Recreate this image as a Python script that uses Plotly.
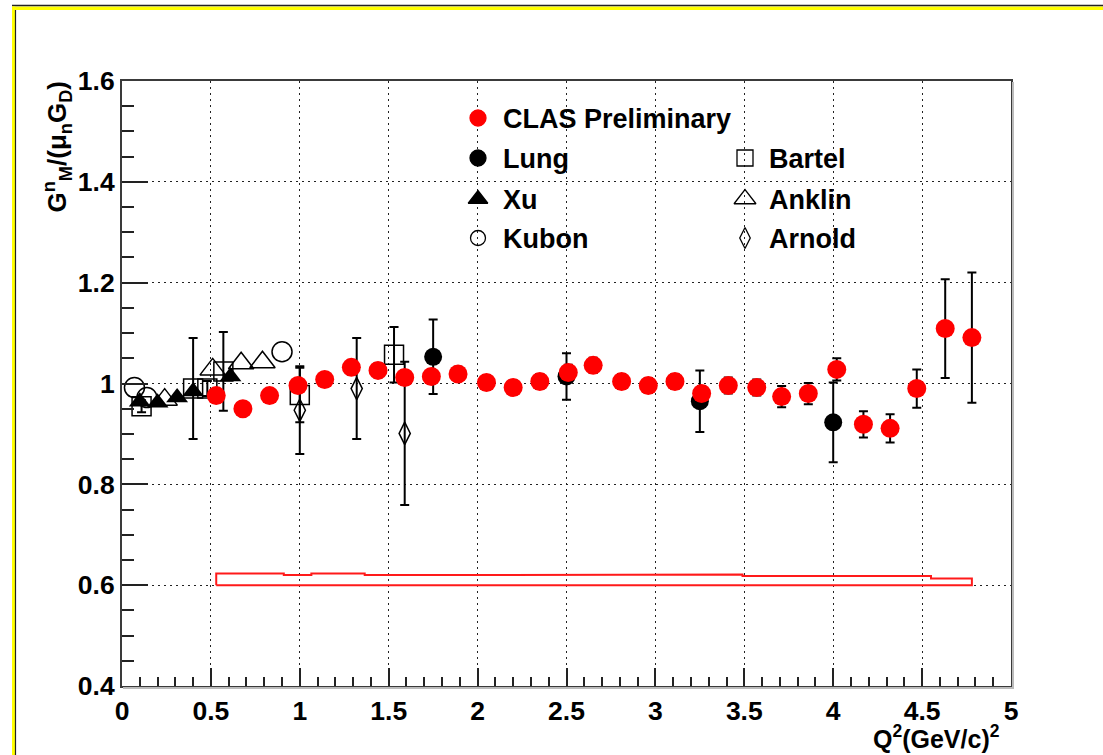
import numpy as np
import plotly.graph_objects as go

# ---------------- data ----------------
# CLAS preliminary: Q^2, G_M^n/(mu_n G_D), statistical error, systematic error
clas_q2 = [0.53, 0.68, 0.83, 0.99, 1.14, 1.29, 1.44, 1.59, 1.74, 1.89,
           2.05, 2.20, 2.35, 2.51, 2.65, 2.81, 2.96, 3.11, 3.26, 3.41,
           3.57, 3.71, 3.86, 4.02, 4.17, 4.32, 4.47, 4.63, 4.78]
clas_gm = [0.976, 0.950, 0.976, 0.996, 1.008, 1.032, 1.026, 1.012, 1.014, 1.019,
           1.002, 0.992, 1.004, 1.022, 1.036, 1.004, 0.996, 1.004, 0.980, 0.996,
           0.992, 0.974, 0.980, 1.028, 0.919, 0.911, 0.990, 1.109, 1.091]
clas_err = [0.013, 0.013, 0.013, 0.013, 0.013, 0.014, 0.014, 0.014, 0.014, 0.014,
            0.014, 0.014, 0.015, 0.015, 0.015, 0.015, 0.015, 0.015, 0.015, 0.016,
            0.016, 0.021, 0.021, 0.022, 0.026, 0.028, 0.038, 0.098, 0.129]
clas_sys = [0.023, 0.023, 0.023, 0.020, 0.023, 0.023, 0.020, 0.020, 0.020, 0.020,
            0.020, 0.020, 0.020, 0.021, 0.021, 0.020, 0.020, 0.020, 0.021, 0.021,
            0.018, 0.018, 0.018, 0.018, 0.018, 0.018, 0.018, 0.013, 0.013]
sys_base = 0.6

lung_q2 = [1.75, 2.50, 3.25, 4.00]
lung_gm = [1.053, 1.014, 0.965, 0.923]
lung_err = [0.074, 0.046, 0.061, 0.079]

bartel_q2 = [0.11, 0.40, 0.48, 0.57, 1.00, 1.53]
bartel_gm = [0.955, 0.990, 0.990, 1.024, 0.977, 1.057]
bartel_err = [0.012, 0.100, 0.015, 0.078, 0.054, 0.055]

xu_q2 = [0.10, 0.20, 0.31, 0.40, 0.61]
xu_gm = [0.964, 0.962, 0.972, 0.984, 1.014]

anklin_q2 = [0.24, 0.51, 0.67, 0.79]
anklin_gm = [0.968, 1.028, 1.040, 1.042]

kubon_q2 = [0.07, 0.14, 0.90]
kubon_gm = [0.992, 0.972, 1.063]

arnold_q2 = [1.00, 1.32, 1.59]
arnold_gm = [0.947, 0.990, 0.901]
arnold_err = [0.087, 0.100, 0.142]

x_tick_vals = [0, 0.5, 1, 1.5, 2, 2.5, 3, 3.5, 4, 4.5, 5]
x_tick_text = ["0", "0.5", "1", "1.5", "2", "2.5", "3", "3.5", "4", "4.5", "5"]
y_tick_vals = [0.4, 0.6, 0.8, 1.0, 1.2, 1.4, 1.6]
y_tick_text = ["0.4", "0.6", "0.8", "1", "1.2", "1.4", "1.6"]

# ---------------- geometry ----------------
W, H = 1103, 755
PL, PR, PT, PB = 122, 1011, 81, 686   # plot frame in pixels
FONT = "Liberation Sans, Arial, Helvetica, sans-serif"


def fx(px):
    return (px - PL) / (PR - PL)


def fy(py):
    return (PB - py) / (PB - PT)


def ebar(arr):
    return dict(type="data", array=arr, color="black", thickness=2, width=4.5)


fig = go.Figure()

# systematic-error band drawn as a closed step outline above the base line
q = np.array(clas_q2)
edges = np.concatenate([[q[0]], 0.5 * (q[:-1] + q[1:]), [q[-1]]])
bx, by = [edges[0]], [sys_base]
for i, s in enumerate(clas_sys):
    bx += [edges[i], edges[i + 1]]
    by += [sys_base + s, sys_base + s]
bx += [edges[-1], edges[0]]
by += [sys_base, sys_base]
fig.add_trace(go.Scatter(x=bx, y=by, mode="lines",
                         line=dict(color="#ff1a1a", width=2), showlegend=False,
                         hoverinfo="skip"))

# other measurements
fig.add_trace(go.Scatter(x=arnold_q2, y=arnold_gm, mode="markers", name="Arnold",
                         error_y=ebar(arnold_err),
                         marker=dict(symbol="diamond-tall-open", size=16, color="black",
                                     line=dict(width=1.5, color="black"))))
fig.add_trace(go.Scatter(x=bartel_q2, y=bartel_gm, mode="markers", name="Bartel",
                         error_y=ebar(bartel_err),
                         marker=dict(symbol="square-open", size=19, color="black",
                                     line=dict(width=1.5, color="black"))))
fig.add_trace(go.Scatter(x=anklin_q2, y=anklin_gm, mode="markers", name="Anklin",
                         marker=dict(symbol="triangle-up-open", size=22, color="black",
                                     line=dict(width=1.5, color="black"))))
fig.add_trace(go.Scatter(x=kubon_q2, y=kubon_gm, mode="markers", name="Kubon",
                         marker=dict(symbol="circle-open", size=20, color="black",
                                     line=dict(width=1.5, color="black"))))
fig.add_trace(go.Scatter(x=xu_q2, y=xu_gm, mode="markers", name="Xu",
                         marker=dict(symbol="triangle-up", size=19, color="black")))
fig.add_trace(go.Scatter(x=lung_q2, y=lung_gm, mode="markers", name="Lung",
                         error_y=ebar(lung_err),
                         marker=dict(symbol="circle", size=18, color="black")))
fig.add_trace(go.Scatter(x=clas_q2, y=clas_gm, mode="markers", name="CLAS Preliminary",
                         error_y=ebar(clas_err),
                         marker=dict(symbol="circle", size=19, color="#ff0000")))

# ---------------- legend (two columns inside the frame) ----------------
legend_keys = [
    ("CLAS Preliminary", "circle", "#ff0000", 16, 0, 0),
    ("Lung", "circle", "black", 16, 0, 1),
    ("Xu", "triangle-up", "black", 17, 0, 2),
    ("Kubon", "circle-open", "black", 15, 0, 3),
    ("Bartel", "square-open", "black", 16, 1, 1),
    ("Anklin", "triangle-up-open", "black", 19, 1, 2),
    ("Arnold", "diamond-tall-open", "black", 15, 1, 3),
]
col_marker_px = [478, 745]
col_text_px = [501, 767]
row_px = [118, 158, 199, 238]

annotations = []
for label, sym, col, sz, c, r in legend_keys:
    fig.add_trace(go.Scatter(x=[fx(col_marker_px[c])], y=[fy(row_px[r])],
                             xaxis="x2", yaxis="y2", mode="markers",
                             marker=dict(symbol=sym, size=sz, color=col,
                                         line=dict(width=1.3, color=col)),
                             showlegend=False, hoverinfo="skip"))
    annotations.append(dict(x=fx(col_text_px[c]), y=fy(row_px[r] + 1), xref="paper", yref="paper",
                            text=label, showarrow=False, xanchor="left", yanchor="middle",
                            font=dict(family=FONT, size=27, color="black", weight="bold")))

# axis titles
annotations.append(dict(x=fx(1001), y=fy(754), xref="paper", yref="paper",
                        text="Q<sup>2</sup>(GeV/c)<sup>2</sup>", showarrow=False,
                        xanchor="right", yanchor="bottom", borderpad=0,
                        font=dict(family=FONT, size=25, color="black", weight="bold")))
annotations.append(dict(x=fx(57), y=fy(80), xref="paper", yref="paper",
                        text="G<sup>n</sup><sub>M</sub>/(\u03bc<sub>n</sub>G<sub>D</sub>)",
                        showarrow=False, textangle=-90, xanchor="center", yanchor="top",
                        font=dict(family=FONT, size=26, color="black", weight="bold")))

# ---------------- canvas border and frame shadow ----------------
shapes = [
    dict(type="rect", xref="paper", yref="paper", x0=fx(12), x1=fx(W + 5), y0=fy(10), y1=fy(6.5),
         fillcolor="#ffff00", line=dict(width=0), layer="above"),
    dict(type="line", xref="paper", yref="paper", x0=fx(12), x1=fx(W + 5), y0=fy(5.5), y1=fy(5.5),
         line=dict(color="#222222", width=1.5), layer="above"),
    dict(type="rect", xref="paper", yref="paper", x0=fx(12), x1=fx(15), y0=fy(H + 5), y1=fy(6.5),
         fillcolor="#ffff00", line=dict(width=0), layer="above"),
    dict(type="line", xref="paper", yref="paper", x0=fx(15.5), x1=fx(15.5), y0=fy(H + 5), y1=fy(10),
         line=dict(color="#222222", width=1.2), layer="above"),
    dict(type="line", xref="paper", yref="paper", x0=fx(PR + 2), x1=fx(PR + 2), y0=fy(PB + 2), y1=fy(PT + 1),
         line=dict(color="#bbbbbb", width=2), layer="above"),
    dict(type="line", xref="paper", yref="paper", x0=fx(PL + 1), x1=fx(PR + 3), y0=fy(PB + 2), y1=fy(PB + 2),
         line=dict(color="#bbbbbb", width=2), layer="above"),
]

grid = dict(showgrid=True, gridcolor="#222222", gridwidth=1.2, griddash="2px,4px")
axis_common = dict(showline=True, mirror=True, linecolor="#3a3a3a", linewidth=2,
                   ticks="inside", tickcolor="#222222", tickwidth=2, zeroline=False,
                   tickfont=dict(family=FONT, size=26.5, color="black", weight="bold"), **grid)

fig.update_layout(
    width=W, height=H,
    margin=dict(l=PL, r=W - PR, t=PT, b=H - PB),
    paper_bgcolor="white", plot_bgcolor="white",
    showlegend=False,
    xaxis=dict(range=[0, 5], tickvals=x_tick_vals, ticktext=x_tick_text, ticklen=18,
               minor=dict(dtick=0.1, tick0=0, ticklen=9, ticks="inside", tickcolor="#222222",
                          tickwidth=2, showgrid=False),
               **axis_common),
    yaxis=dict(range=[0.4, 1.6], tickvals=y_tick_vals, ticktext=y_tick_text, ticklen=26,
               minor=dict(dtick=0.05, tick0=0.4, ticklen=12, ticks="inside", tickcolor="#222222",
                          tickwidth=2, showgrid=False),
               **axis_common),
    xaxis2=dict(range=[0, 1], overlaying="x", visible=False),
    yaxis2=dict(range=[0, 1], overlaying="y", visible=False),
    annotations=annotations,
    shapes=shapes,
)

fig.write_html("out.html")
